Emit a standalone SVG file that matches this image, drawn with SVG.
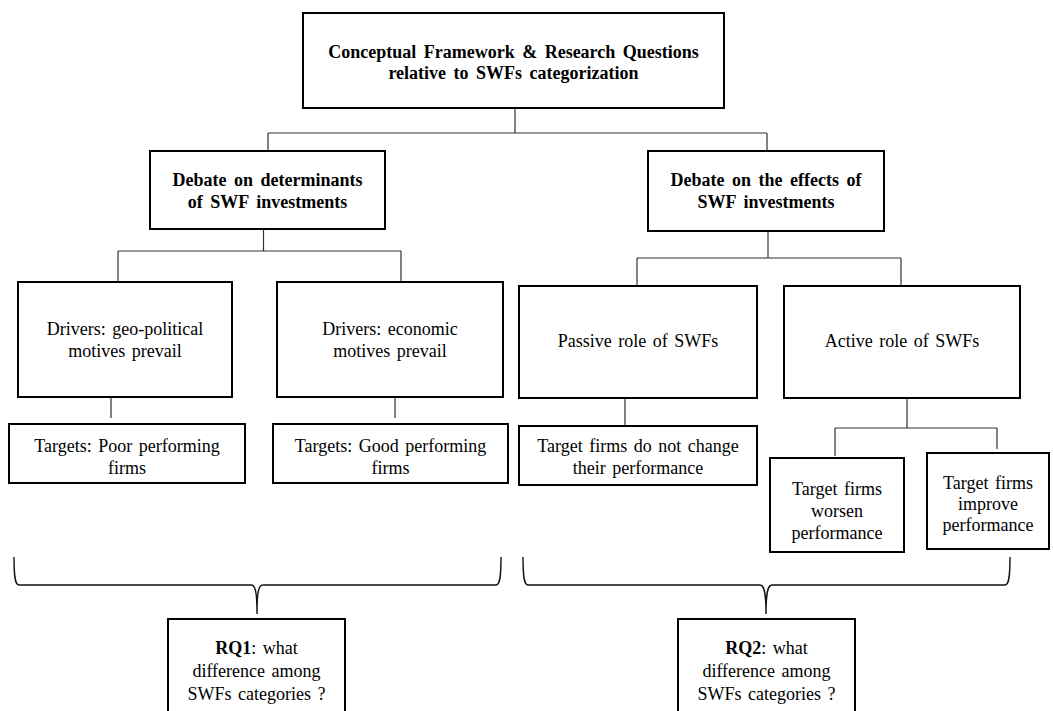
<svg xmlns="http://www.w3.org/2000/svg" width="1053" height="711" viewBox="0 0 1053 711">
<style>
.box{fill:#fff;stroke:#000;stroke-width:2}
.t{font-size:18px;fill:#000;text-anchor:middle;word-spacing:2px}
.b{font-weight:bold;word-spacing:3px}
.c{fill:none;stroke:#333;stroke-width:1.2}
.br{fill:none;stroke:#111;stroke-width:1.4}
</style>
<rect width="1053" height="711" fill="#fff"/>
<g id="connectors">
<path class="c" d="M515,108V133M268,133H767M268,133V151M767,133V151"/>
<path class="c" d="M263.5,229V251M118,251H401M118,251V282M401,251V282"/>
<path class="c" d="M768,231V258M637,258H901M637,258V286M901,258V286"/>
<path class="c" d="M111,397V418M395,397V418M625,398V425"/>
<path class="c" d="M907,398V428M835,428H997M835,428V456M997,428V449"/>
<path class="br" d="M14,557C14,576 15,585 19,585L251,585C255,585 257,590 257,614C257,590 259,585 263,585L496,585C500,585 501,576 501,557"/>
<path class="br" d="M523,557C523,576 524,585 528,585L760,585C764,585 766,591 766,614C766,591 768,585 772,585L1005,585C1009,585 1010,576 1010,557"/>
</g>
<g font-family="Liberation Serif, DejaVu Serif, serif">
<g id="n-top"><rect class="box" x="303" y="13" width="421" height="95"/>
<text class="t b" x="513.5" y="58">Conceptual Framework &amp; Research Questions</text>
<text class="t b" x="513.5" y="79">relative to SWFs categorization</text></g>
<g id="n-det"><rect class="box" x="150" y="151" width="235" height="78"/>
<text class="t b" x="267.5" y="186">Debate on determinants</text>
<text class="t b" x="267.5" y="208">of SWF investments</text></g>
<g id="n-eff"><rect class="box" x="648" y="151" width="236" height="80"/>
<text class="t b" x="766" y="186">Debate on the effects of</text>
<text class="t b" x="766" y="208">SWF investments</text></g>
<g id="n-geo"><rect class="box" x="18" y="282" width="214" height="115"/>
<text class="t" x="125" y="335">Drivers: geo-political</text>
<text class="t" x="125" y="357">motives prevail</text></g>
<g id="n-eco"><rect class="box" x="277" y="282" width="226" height="115"/>
<text class="t" x="390" y="335">Drivers: economic</text>
<text class="t" x="390" y="357">motives prevail</text></g>
<g id="n-pas"><rect class="box" x="519" y="286" width="238" height="112"/>
<text class="t" x="638" y="347">Passive role  of SWFs</text></g>
<g id="n-act"><rect class="box" x="784" y="286" width="236" height="112"/>
<text class="t" x="902" y="347">Active role of SWFs</text></g>
<g id="n-poor"><rect class="box" x="9" y="424" width="236" height="59"/>
<text class="t" x="127" y="452">Targets: Poor performing</text>
<text class="t" x="127" y="474">firms</text></g>
<g id="n-good"><rect class="box" x="273" y="424" width="235" height="59"/>
<text class="t" x="390.5" y="452">Targets: Good performing</text>
<text class="t" x="390.5" y="474">firms</text></g>
<g id="n-nochg"><rect class="box" x="519" y="426" width="238" height="59"/>
<text class="t" x="638" y="452">Target firms do not change</text>
<text class="t" x="638" y="474">their performance</text></g>
<g id="n-worse"><rect class="box" x="770" y="458" width="134" height="94"/>
<text class="t" x="837" y="495">Target firms</text>
<text class="t" x="837" y="517">worsen</text>
<text class="t" x="837" y="539">performance</text></g>
<g id="n-impr"><rect class="box" x="927" y="453" width="122" height="96"/>
<text class="t" x="988" y="489">Target firms</text>
<text class="t" x="988" y="510">improve</text>
<text class="t" x="988" y="531">performance</text></g>
<g id="n-rq1"><rect class="box" x="168" y="619" width="177" height="110"/>
<text class="t" x="256.5" y="654"><tspan font-weight="bold">RQ1</tspan>: what</text>
<text class="t" x="256.5" y="677">difference among</text>
<text class="t" x="256.5" y="700">SWFs categories ?</text></g>
<g id="n-rq2"><rect class="box" x="678" y="619" width="177" height="110"/>
<text class="t" x="766.5" y="654"><tspan font-weight="bold">RQ2</tspan>: what</text>
<text class="t" x="766.5" y="677">difference among</text>
<text class="t" x="766.5" y="700">SWFs categories ?</text></g>
</g>
</svg>
